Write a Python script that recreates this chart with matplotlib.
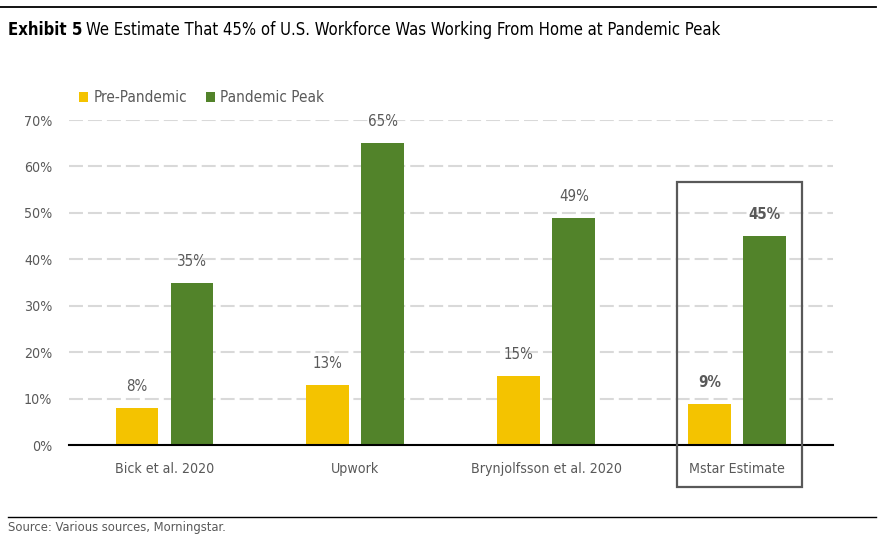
import matplotlib
matplotlib.use("Agg")
import matplotlib.pyplot as plt
from matplotlib.lines import Line2D
from matplotlib.patches import Rectangle
import numpy as np

plt.rcParams['font.family'] = ['DejaVu Sans']
plt.rcParams['font.stretch'] = 'condensed'

# data
categories = ['Bick et al. 2020', 'Upwork', 'Brynjolfsson et al. 2020', 'Mstar Estimate']
pre_pandemic = [8, 13, 15, 9]
pandemic_peak = [35, 65, 49, 45]
series_names = ['Pre-Pandemic', 'Pandemic Peak']

yellow = '#F4C300'
green = '#52832A'
gray = '#595959'

fig = plt.figure(figsize=(8.85, 5.43), dpi=100)
ax = fig.add_axes([0.078, 0.1796, 0.863, 0.5994])

x = np.arange(len(categories))
w = 0.225
off = 0.144
b1 = ax.bar(x - off, pre_pandemic, w, color=yellow, label=series_names[0], zorder=3)
b2 = ax.bar(x + off, pandemic_peak, w, color=green, label=series_names[1], zorder=3)

for bars in (b1, b2):
    for i, r in enumerate(bars):
        ax.annotate(f'{r.get_height():.0f}%', (r.get_x() + r.get_width() / 2, r.get_height()),
                    xytext=(0, 10), textcoords='offset points', ha='center', va='bottom',
                    fontsize=10.8, color=gray, fontweight='bold' if i == 3 else 'normal',
                    annotation_clip=False)

ax.set_xlim(-0.5, 3.5)
ax.set_ylim(0, 70)
ax.set_yticks(range(0, 71, 10))
ax.set_yticklabels([f'{v}%' for v in range(0, 71, 10)])
ax.set_xticks(x)
ax.set_xticklabels(categories)
ax.tick_params(axis='both', length=0, labelsize=10.2, labelcolor=gray)
ax.tick_params(axis='y', pad=12)
ax.tick_params(axis='x', pad=12)
ax.yaxis.grid(True, color='#d9d9d9', linewidth=1.5, dashes=(6.7, 2.4), zorder=0)
for s in ['top', 'right', 'left']:
    ax.spines[s].set_visible(False)
ax.spines['bottom'].set_linewidth(1.5)
ax.spines['bottom'].set_zorder(4)

# box around the Mstar estimate
ax.add_patch(Rectangle((3 - 0.315, -8.9), 0.654, 65.6, fill=False, edgecolor=gray,
                       linewidth=1.6, clip_on=False, zorder=5))

leg = fig.legend(handles=[b1, b2], labels=series_names, loc='center left',
                 bbox_to_anchor=(79 / 885, 1 - 98 / 543), bbox_transform=fig.transFigure,
                 ncol=2, frameon=False, fontsize=11, handlelength=0.6, handleheight=0.6,
                 handletextpad=0.33, columnspacing=1.25, borderaxespad=0.0, borderpad=0.0)
for t in leg.get_texts():
    t.set_color(gray)

# title and rules
fig.add_artist(Line2D([0, 876 / 885], [1 - 7 / 543] * 2, color='black', linewidth=1.3))
fig.add_artist(Line2D([8 / 885, 876 / 885], [1 - 516.5 / 543] * 2, color='black', linewidth=1))
t1 = fig.text(8 / 885, 1 - 30 / 543, 'Exhibit 5', fontsize=12, fontweight='bold',
              va='center', ha='left', color='black')
fig.canvas.draw()
bb = t1.get_window_extent(fig.canvas.get_renderer())
fig.text(bb.x1 / fig.bbox.width + 4 / 885, 1 - 30 / 543,
         'We Estimate That 45% of U.S. Workforce Was Working From Home at Pandemic Peak',
         fontsize=12, va='center', ha='left', color='black')
fig.text(8 / 885, 1 - 527 / 543, 'Source: Various sources, Morningstar.', fontsize=9.3,
         va='center', ha='left', color=gray)

fig.savefig('out.png', dpi=100)
